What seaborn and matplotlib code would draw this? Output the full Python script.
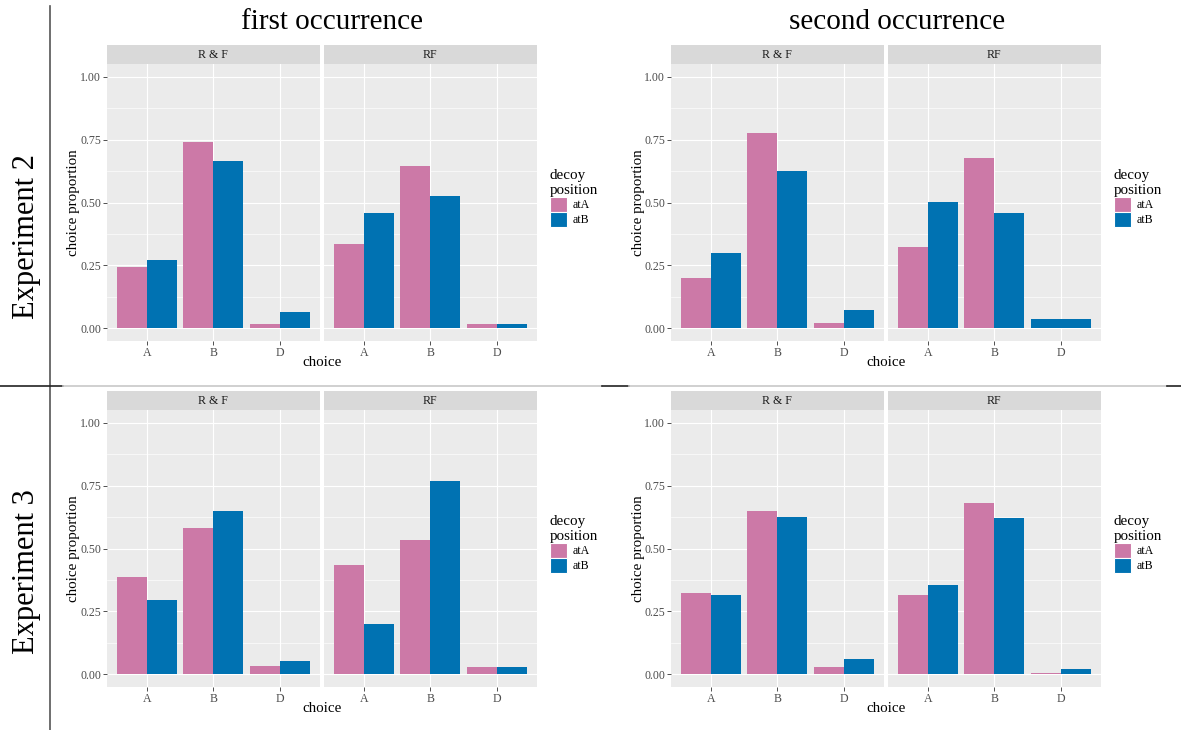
import numpy as np
import pandas as pd
import matplotlib
matplotlib.use("Agg")
import matplotlib.pyplot as plt
import seaborn as sns
from matplotlib.lines import Line2D
from matplotlib.patches import Patch

# ---- data -------------------------------------------------------------
choices = ["A", "B", "D"]
positions = ["atA", "atB"]
conditions = ["R & F", "RF"]
experiments = ["Experiment 2", "Experiment 3"]
occurrences = ["first occurrence", "second occurrence"]

# Experiment 2, first occurrence
e2_first_rnf_atA = [0.242, 0.741, 0.017]
e2_first_rnf_atB = [0.270, 0.666, 0.067]
e2_first_rf_atA = [0.337, 0.646, 0.017]
e2_first_rf_atB = [0.460, 0.527, 0.017]
# Experiment 2, second occurrence (no D choices with decoy at A under RF)
e2_second_rnf_atA = [0.202, 0.777, 0.020]
e2_second_rnf_atB = [0.301, 0.626, 0.075]
e2_second_rf_atA = [0.325, 0.678, np.nan]
e2_second_rf_atB = [0.503, 0.460, 0.036]
# Experiment 3, first occurrence
e3_first_rnf_atA = [0.386, 0.581, 0.034]
e3_first_rnf_atB = [0.296, 0.649, 0.054]
e3_first_rf_atA = [0.435, 0.534, 0.030]
e3_first_rf_atB = [0.201, 0.767, 0.030]
# Experiment 3, second occurrence
e3_second_rnf_atA = [0.324, 0.649, 0.030]
e3_second_rnf_atB = [0.316, 0.625, 0.062]
e3_second_rf_atA = [0.316, 0.680, 0.007]
e3_second_rf_atB = [0.355, 0.621, 0.022]

y_ticks = [0.0, 0.25, 0.5, 0.75, 1.0]
y_ticklabels = ["0.00", "0.25", "0.50", "0.75", "1.00"]

series = {
    ("Experiment 2", "first occurrence", "R & F"): (e2_first_rnf_atA, e2_first_rnf_atB),
    ("Experiment 2", "first occurrence", "RF"): (e2_first_rf_atA, e2_first_rf_atB),
    ("Experiment 2", "second occurrence", "R & F"): (e2_second_rnf_atA, e2_second_rnf_atB),
    ("Experiment 2", "second occurrence", "RF"): (e2_second_rf_atA, e2_second_rf_atB),
    ("Experiment 3", "first occurrence", "R & F"): (e3_first_rnf_atA, e3_first_rnf_atB),
    ("Experiment 3", "first occurrence", "RF"): (e3_first_rf_atA, e3_first_rf_atB),
    ("Experiment 3", "second occurrence", "R & F"): (e3_second_rnf_atA, e3_second_rnf_atB),
    ("Experiment 3", "second occurrence", "RF"): (e3_second_rf_atA, e3_second_rf_atB),
}

rows = []
for (exp, occ, cond), (vals_a, vals_b) in series.items():
    for pos, vals in zip(positions, (vals_a, vals_b)):
        for ch, v in zip(choices, vals):
            rows.append(dict(experiment=exp, occurrence=occ, condition=cond,
                             choice=ch, decoy=pos, proportion=v))
df = pd.DataFrame(rows).dropna(subset=["proportion"])

# ---- style ------------------------------------------------------------
palette = {"atA": "#CC79A7", "atB": "#0072B2"}
PANEL_BG = "#EBEBEB"
STRIP_BG = "#D9D9D9"
TICK_FS = 8.6
TITLE_FS = 10.8
HEAD_FS = 21

plt.rcParams["font.family"] = ["Liberation Serif", "DejaVu Serif"]

W, H = 1181, 730
fig = plt.figure(figsize=(W / 100, H / 100), dpi=100)


def fx(x):
    return x / W


def fy(y):
    return 1 - y / H


def add_px_axes(x0, y0, x1, y1, **kw):
    return fig.add_axes([fx(x0), fy(y1), (x1 - x0) / W, (y1 - y0) / H], **kw)


panel_w = 212.5
facet_step = 217
col_step = 564
row_step = 346
panel_top, panel_bot = 64, 341
strip_top = 45

for r, exp in enumerate(experiments):
    dy = r * row_step
    for c, occ in enumerate(occurrences):
        dx = c * col_step
        for f, cond in enumerate(conditions):
            x0 = 107 + dx + f * facet_step
            ax = add_px_axes(x0, panel_top + dy, x0 + panel_w, panel_bot + dy)
            ax.set_facecolor(PANEL_BG)

            sub = df[(df.experiment == exp) & (df.occurrence == occ) & (df.condition == cond)]
            n_per_choice = sub.groupby("choice")["decoy"].transform("nunique")
            paired = sub[n_per_choice == 2]
            single = sub[n_per_choice == 1]

            sns.barplot(data=paired, x="choice", y="proportion", hue="decoy",
                        order=choices, hue_order=positions, palette=palette,
                        width=0.9, saturation=1, linewidth=0, errorbar=None,
                        legend=False, ax=ax)
            # a choice with only one decoy position fills the whole slot
            for _, row in single.iterrows():
                sns.barplot(data=single[single.index == row.name], x="choice",
                            y="proportion", order=choices,
                            color=palette[row.decoy], width=0.9, saturation=1,
                            linewidth=0, errorbar=None, ax=ax)

            ax.set_xlim(-0.6, 2.6)
            ax.set_ylim(-0.05, 1.05)
            ax.set_xlabel("")
            ax.set_ylabel("")
            ax.set_yticks(y_ticks)
            ax.set_yticks([0.125, 0.375, 0.625, 0.875], minor=True)
            if f == 0:
                ax.set_yticklabels(y_ticklabels)
            else:
                ax.tick_params(axis="y", which="both", left=False, labelleft=False)
            ax.set_axisbelow(True)
            ax.grid(which="major", color="white", linewidth=0.85)
            ax.grid(which="minor", axis="y", color="white", linewidth=0.45)
            ax.tick_params(axis="both", which="major", length=2.6, width=0.6,
                           color="#333333", labelsize=TICK_FS, labelcolor="#4D4D4D",
                           pad=1.5)
            ax.tick_params(axis="y", which="minor", length=0)
            for s in ax.spines.values():
                s.set_visible(False)

            # facet strip
            sax = add_px_axes(x0, strip_top + dy, x0 + panel_w, panel_top + dy)
            sax.set_facecolor(STRIP_BG)
            sax.set_xticks([])
            sax.set_yticks([])
            for s in sax.spines.values():
                s.set_visible(False)
            sax.text(0.5, 0.5, cond, ha="center", va="center", fontsize=TICK_FS,
                     color="#1A1A1A", transform=sax.transAxes)

        # axis titles
        fig.text(fx(74 + dx), fy((panel_top + panel_bot) / 2 + dy),
                 "choice proportion", rotation=90, ha="center", va="center",
                 fontsize=TITLE_FS, color="black")
        fig.text(fx(107 + dx + (facet_step + panel_w) / 2), fy(363 + dy), "choice",
                 ha="center", va="center", fontsize=TITLE_FS, color="black")

        # legend
        handles = [Patch(facecolor=palette[p], edgecolor="white", linewidth=0.8)
                   for p in positions]
        leg = fig.legend(handles, positions, title="decoy\nposition",
                         loc="upper left",
                         bbox_to_anchor=(fx(550 + dx), fy(169 + dy)),
                         frameon=False, fontsize=TICK_FS, title_fontsize=TITLE_FS,
                         handlelength=1.4, handleheight=1.55, labelspacing=0.0,
                         handletextpad=0.5, borderpad=0, borderaxespad=0)
        leg._legend_box.align = "left"

# column and row headings
fig.text(fx(332), fy(22), "first occurrence", ha="center", va="center", fontsize=HEAD_FS)
fig.text(fx(897), fy(22), "second occurrence", ha="center", va="center", fontsize=HEAD_FS)
fig.text(fx(27), fy(237), "Experiment 2", rotation=90, ha="center", va="center", fontsize=HEAD_FS + 1)
fig.text(fx(27), fy(572), "Experiment 3", rotation=90, ha="center", va="center", fontsize=HEAD_FS + 1)

# separating rules
fig.add_artist(Line2D([fx(50), fx(50)], [fy(6), fy(730)], color="#555555", lw=1.2))
for x0, x1, col in [(0, 63, "#222222"), (63, 602, "#C8C8C8"), (602, 629, "#222222"),
                    (629, 1167, "#C8C8C8"), (1167, 1181, "#222222")]:
    fig.add_artist(Line2D([fx(x0), fx(x1)], [fy(385.7), fy(385.7)], color=col, lw=1.2))

fig.savefig("out.png", dpi=100, facecolor="white")
